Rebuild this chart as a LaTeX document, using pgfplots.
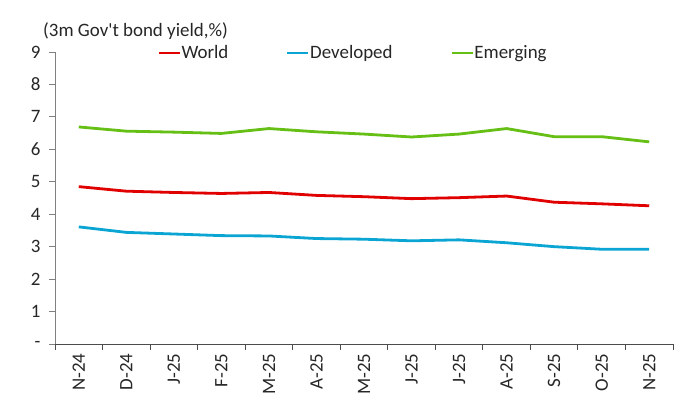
\documentclass[border=0pt]{standalone}
\usepackage{fontspec}
\setmainfont{Carlito}
\usepackage{pgfplots}
\pgfplotsset{compat=1.18}
\definecolor{cWorld}{HTML}{E00000}
\definecolor{cDev}{HTML}{0AA5D2}
\definecolor{cEm}{HTML}{66BF14}
\definecolor{cTxt}{HTML}{262626}
\begin{document}
\begin{tikzpicture}[font=\fontsize{19}{23}\selectfont, text=cTxt]
\begin{axis}[
    scale only axis,
    width=618bp, height=292bp,
    xmin=-0.5, xmax=12.5,
    ymin=0, ymax=9,
    axis lines*=left,
    x axis line style={draw=black!70, line width=0.9bp},
    y axis line style={draw=black!50, line width=0.9bp},
    tick align=outside,
    major tick length=6bp,
    minor tick length=6bp,
    xtick={0,...,12},
    xticklabels={N-24,D-24,J-25,F-25,M-25,A-25,M-25,J-25,J-25,A-25,S-25,O-25,N-25},
    minor xtick={-0.5,0.5,...,12.5},
    major x tick style={draw=none},
    minor x tick style={draw=black!70, line width=0.9bp},
    ytick={0,...,9},
    yticklabels={-,1,2,3,4,5,6,7,8,9},
    y tick style={draw=black!50, line width=0.9bp},
    xticklabel style={rotate=90, anchor=east},
    yticklabel style={xshift=-5bp},
    clip=false,
    legend columns=3,
    legend cell align=left,
    legend style={at={(rel axis cs:0,1)}, anchor=west, xshift=102bp, yshift=-1bp,
        draw=none, fill=none, inner sep=0pt,
        nodes={inner sep=0.5bp},
        /tikz/every even column/.append style={column sep=57bp}},
    legend image code/.code={\draw[#1, line width=2.8bp] (0bp,0bp) -- (21bp,0bp);},
]
\addplot[cWorld, line width=2.8bp, line join=round] coordinates {
    (0,4.85) (1,4.71) (2,4.67) (3,4.64) (4,4.67) (5,4.58) (6,4.54)
    (7,4.48) (8,4.51) (9,4.56) (10,4.37) (11,4.32) (12,4.26)
};
\addlegendentry{World}
\addplot[cDev, line width=2.8bp, line join=round] coordinates {
    (0,3.61) (1,3.44) (2,3.39) (3,3.34) (4,3.33) (5,3.25) (6,3.23)
    (7,3.18) (8,3.21) (9,3.12) (10,3.00) (11,2.92) (12,2.92)
};
\addlegendentry{Developed}
\addplot[cEm, line width=2.8bp, line join=round] coordinates {
    (0,6.69) (1,6.56) (2,6.53) (3,6.49) (4,6.64) (5,6.54) (6,6.47)
    (7,6.38) (8,6.47) (9,6.64) (10,6.39) (11,6.39) (12,6.23)
};
\addlegendentry{Emerging}
\node[anchor=base west, inner sep=0pt] at ([xshift=-12bp, yshift=15bp] rel axis cs:0,1)
    {(3m Gov\textquotesingle t bond yield,\%)};
\coordinate (BL) at ([xshift=-55bp, yshift=-72bp] rel axis cs:0,0);
\coordinate (TR) at ([xshift=26bp, yshift=52bp] rel axis cs:1,1);
\end{axis}
\pgfresetboundingbox
\path[use as bounding box] (BL) rectangle (TR);
\end{tikzpicture}
\end{document}
